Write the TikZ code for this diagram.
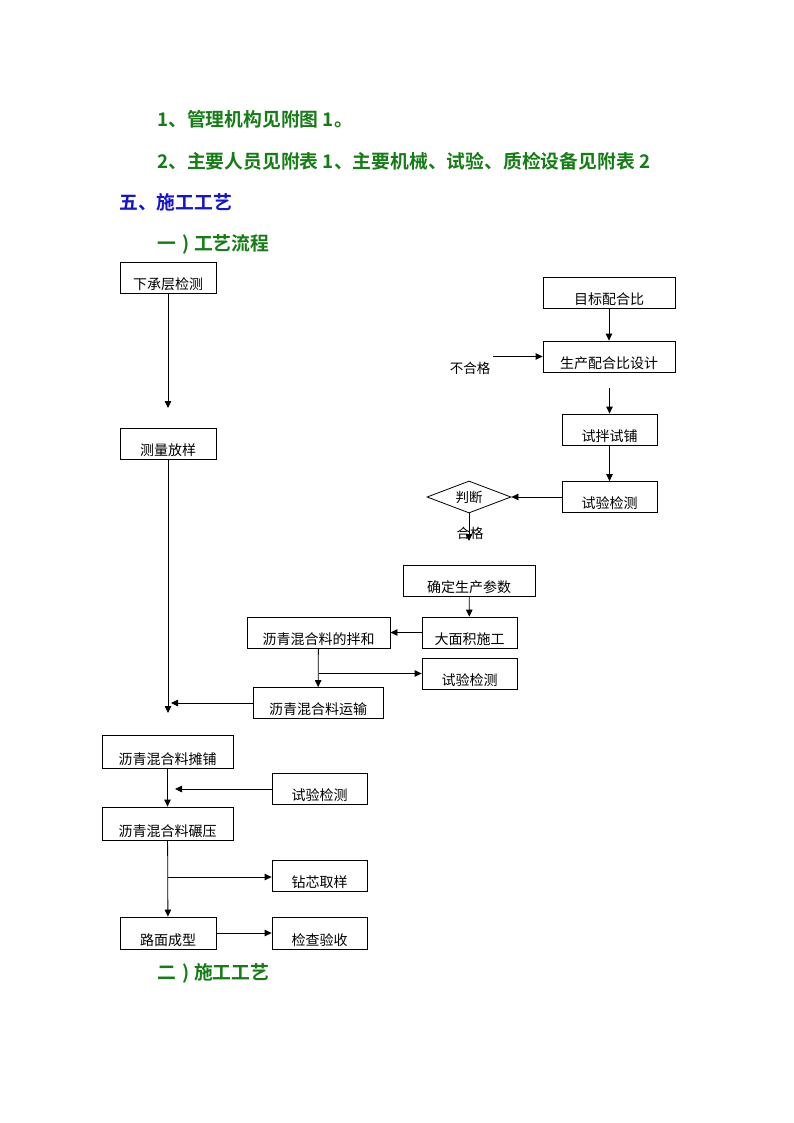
\documentclass[tikz,border=0pt]{standalone}
\usepackage{fontspec}
\newfontfamily\cjk{Noto Sans CJK SC}
\newfontfamily\cjkbold{Noto Sans CJK SC Bold}
\usetikzlibrary{arrows.meta,shapes.geometric}
\definecolor{hdgreen}{RGB}{22,125,22}
\definecolor{hdblue}{RGB}{20,20,205}
\begin{document}
\begin{tikzpicture}[x=1pt,y=-1pt,
  hd/.style={anchor=west,inner sep=0pt,font=\cjkbold\fontsize{18.8}{21}\selectfont,text=hdgreen},
  flowbox/.style={draw,line width=0.8pt,inner xsep=1pt,inner ysep=1pt,text height=26pt,text depth=3pt,
    minimum height=31pt,font=\cjk\fontsize{14}{16}\selectfont},
  judge/.style={draw,line width=0.8pt,shape=diamond,aspect=2.6,inner sep=0pt,minimum width=84pt,minimum height=32pt,
    font=\cjk\fontsize{13.5}{15}\selectfont},
  lbl/.style={inner sep=0pt,font=\cjk\fontsize{13.5}{15}\selectfont},
  arr/.style={draw,line width=0.8pt,-{Triangle[length=7pt,width=6.5pt]}},
  ln/.style={draw,line width=0.8pt}]
\useasboundingbox (0,0) rectangle (794,1123);
\fill[white] (0,0) rectangle (794,1123);
% headings
\node[hd] (h1) at (157,119) {1、管理机构见附图 1。};
\node[hd] (h2) at (157,161) {2、主要人员见附表 1、主要机械、试验、质检设备见附表 2};
\node[hd,text=hdblue] (h3) at (119,202) {五、施工工艺};
\node[hd] (h4) at (157,244) {一\hspace{6pt})\hspace{5pt}工艺流程};
\node[hd] (h5) at (157,973) {二\hspace{6pt})\hspace{5pt}施工工艺};
% boxes
\node[flowbox,minimum width=96pt] (A) at (168,277.5) {下承层检测};
\node[flowbox,minimum width=96pt] (B) at (168,443.5) {测量放样};
\node[flowbox,minimum width=132pt] (C) at (609,292.5) {目标配合比};
\node[flowbox,minimum width=132pt] (D) at (609,356.5) {生产配合比设计};
\node[flowbox,minimum width=95pt] (E) at (609.5,429.5) {试拌试铺};
\node[flowbox,minimum width=95pt] (F) at (609.5,497) {试验检测};
\node[judge] (J) at (469,497) {判断};
\node[lbl] (ng) at (470,368) {不合格};
\node[lbl] (ok) at (470,533) {合格};
\node[flowbox,minimum width=132pt] (G) at (469,580.5) {确定生产参数};
\node[flowbox,minimum width=95pt] (H) at (469.5,632.5) {大面积施工};
\node[flowbox,minimum width=143pt] (I) at (318.5,632.5) {沥青混合料的拌和};
\node[flowbox,minimum width=95pt] (Jt) at (469.5,673.5) {试验检测};
\node[flowbox,minimum width=130pt] (K) at (318,703) {沥青混合料运输};
\node[flowbox,minimum width=131pt,minimum height=33pt,text height=28pt] (L) at (167.5,751.5) {沥青混合料摊铺};
\node[flowbox,minimum width=95pt] (M) at (319.5,789) {试验检测};
\node[flowbox,minimum width=131pt,minimum height=33pt,text height=28pt] (N) at (167.5,823.5) {沥青混合料碾压};
\node[flowbox,minimum width=95pt] (O) at (319.5,875.5) {钻芯取样};
\node[flowbox,minimum width=96pt,minimum height=32pt,text height=27pt] (P) at (168,933) {路面成型};
\node[flowbox,minimum width=95pt,minimum height=32pt,text height=27pt] (Q) at (319.5,933) {检查验收};
% free ends
\coordinate (aEnd) at (168,408);
\coordinate (bEnd) at (168,713);
\coordinate (kEnd) at (171,703);
\coordinate (dStart) at (609.5,388);
\coordinate (ngStart) at (493,356.5);
\coordinate (okEnd) at (469,541);
\coordinate (mEnd) at (175,789);
\coordinate (iBr) at (318.5,673.5);
\coordinate (nBr) at (167.5,877);
% connectors
\draw[arr] (A) -- (aEnd);
\draw[arr] (B) -- (bEnd);
\draw[arr] (K.west) -- (kEnd);
\draw[arr] (C) -- (D);
\draw[arr] (dStart) -- (E);
\draw[arr] (E) -- (F);
\draw[arr] (F) -- (J);
\draw[arr] (ngStart) -- (D.west);
\draw[arr] (J.south) -- (okEnd);
\draw[arr] (G) -- (H);
\draw[arr] (H) -- (I);
\draw[arr] (I) -- (K);
\draw[arr] (iBr) -- (Jt.west);
\draw[arr] (L) -- (N);
\draw[arr] (M.west) -- (mEnd);
\draw[arr] (N) -- (P);
\draw[arr] (nBr) -- (O.west |- nBr);
\draw[arr] (P) -- (Q);
\end{tikzpicture}
\end{document}
